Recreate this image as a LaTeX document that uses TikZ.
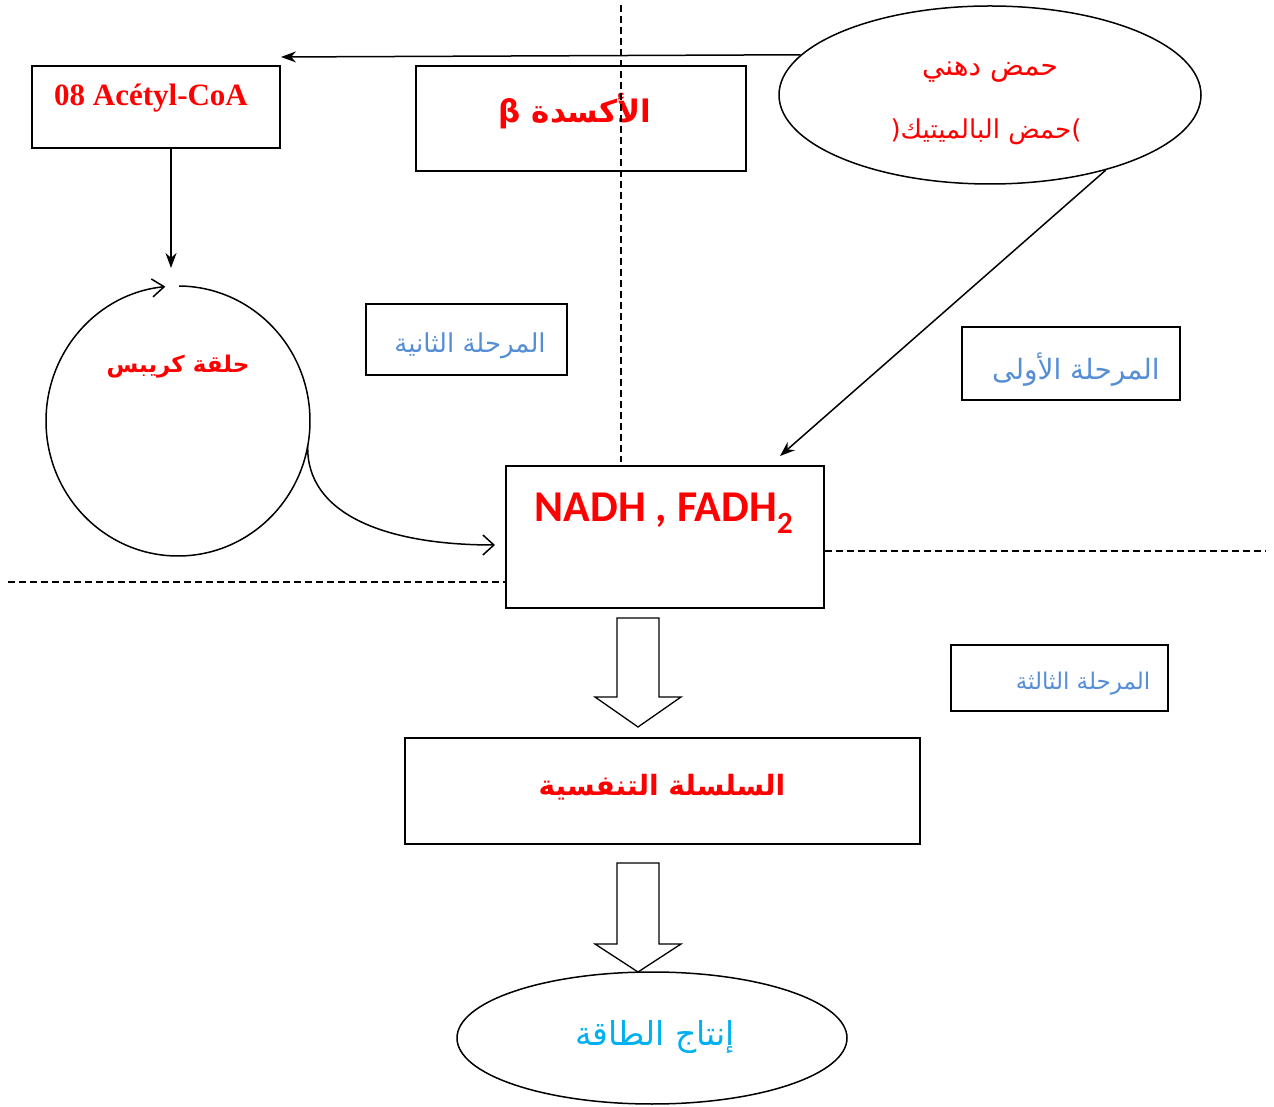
\documentclass[tikz,border=0pt]{standalone}
\usepackage{fontspec}
\setmainfont{Liberation Serif}
\newfontfamily\arab[Script=Arabic]{DejaVu Sans}
\newfontfamily\calib{Carlito}
\TeXXeTstate=1
\usetikzlibrary{arrows.meta,calc,shapes.geometric}
\definecolor{phaseblue}{HTML}{558ED5}
\definecolor{energyblue}{HTML}{00B0F0}
\definecolor{hotred}{HTML}{FF0000}
\newcommand{\fs}[1]{\fontsize{#1}{#1}\selectfont}

\begin{document}
\begin{tikzpicture}[x=1pt,y=1pt,line width=1.5pt,
  box/.style={draw,rectangle,inner sep=0pt},
  oval/.style={draw,ellipse,inner sep=0pt},
  guide/.style={line width=1.2pt,dash pattern=on 7pt off 4pt},
  solidtip/.style={-{Stealth[length=15pt,width=11pt]}},
  opentip/.style={-{Straight Barb[length=11pt,width=20pt]}},
  redtxt/.style={text=hotred,inner sep=0pt},
  phasetxt/.style={text=phaseblue,inner sep=0pt}]
\useasboundingbox (0,0) rectangle (1274,1106);

% boxes and ovals
\node[box,minimum width=248,minimum height=82] (acetyl) at (156,999) {};
\node[box,minimum width=330,minimum height=105] (beta) at (581,987.5) {};
\node[oval,minimum width=422,minimum height=178] (fat) at (990,1011) {};
\node[box,minimum width=201,minimum height=71] (phase2) at (466.5,766.5) {};
\node[box,minimum width=218,minimum height=73] (phase1) at (1071,742.5) {};
\node[box,minimum width=318,minimum height=142] (nadh) at (665,569) {};
\node[box,minimum width=217,minimum height=66] (phase3) at (1059.5,428) {};
\node[box,minimum width=515,minimum height=106] (chain) at (662.5,315) {};
\node[oval,minimum width=390,minimum height=132] (energy) at (652,68) {};

% texts
\node[redtxt] (tacetyl) at (151,1008) {\fs{31}\bfseries 08 Acétyl-CoA};
\node[redtxt] (tbeta) at (575,995) {\arab\fs{31}\bfseries\beginR الأكسدة β\endR};
\node[redtxt] (tfat1) at (990,1034) {\arab\fs{28}\beginR حمض دهني\endR};
\node[redtxt] (tfat2) at (986,974) {\arab\fs{26}(\beginR حمض البالميتيك\endR)};
\node[redtxt] (tkrebs) at (178,739) {\arab\fs{23}\bfseries\beginR حلقة كريبس\endR};
\node[phasetxt] (tphase2) at (470,760) {\arab\fs{26}\beginR المرحلة الثانية\endR};
\node[phasetxt] (tphase1) at (1076,736) {\arab\fs{28}\beginR المرحلة الأولى\endR};
\node[redtxt] (tnadh) at (664,593) {\calib\fs{44}\bfseries NADH , FADH\textsubscript{2}};
\node[phasetxt] (tphase3) at (1083,422) {\arab\fs{23}\beginR المرحلة الثالثة\endR};
\node[redtxt] (tchain) at (662,319) {\arab\fs{28}\bfseries\beginR السلسلة التنفسية\endR};
\node[text=energyblue,inner sep=0pt] (tenergy) at (655,69) {\arab\fs{33}\beginR إنتاج الطاقة\endR};

% dashed separators
\coordinate (vtop) at (621,1101);
\coordinate (hright) at (1265,555);
\coordinate (hleft) at (8,524);
\draw[guide] (vtop) -- (621,644);
\draw[guide] (nadh.east |- hright) -- (hright);
\draw[guide] (hleft) -- (nadh.west |- hleft);

% connectors
\coordinate (acetylin) at (281,1049);
\draw[solidtip] (fat.168.75) -- (acetylin);
\coordinate (acetylout) at (171,958);
\coordinate (krebsin) at (171,838);
\draw[solidtip] (acetylout) -- (krebsin);
\coordinate (nadhin) at (780,650);
\draw[solidtip] (fat.-33.9) -- (nadhin);

% Krebs cycle
\coordinate (kc) at (178,685);
\draw[-{Straight Barb[length=12pt,width=18pt]}] ($(kc)+(89.5:132 and 135)$)
  arc[start angle=89.5,end angle=-264.5,x radius=132,y radius=135];
\coordinate (kout) at ($(kc)+(-10.6:132 and 135)$);
\coordinate (nadhleft) at (495,561);
\draw[opentip] (kout) .. controls (306,592) and (385,561) .. (nadhleft);

% hollow block arrows
\draw[line width=1.3pt] (617,488) -- (659,488) -- (659,409) -- (681,409) -- (638,379)
  -- (595,409) -- (617,409) -- cycle;
\draw[line width=1.3pt] (617,243) -- (659,243) -- (659,162) -- (681,162) -- (638,134)
  -- (595,162) -- (617,162) -- cycle;
\end{tikzpicture}
\end{document}
